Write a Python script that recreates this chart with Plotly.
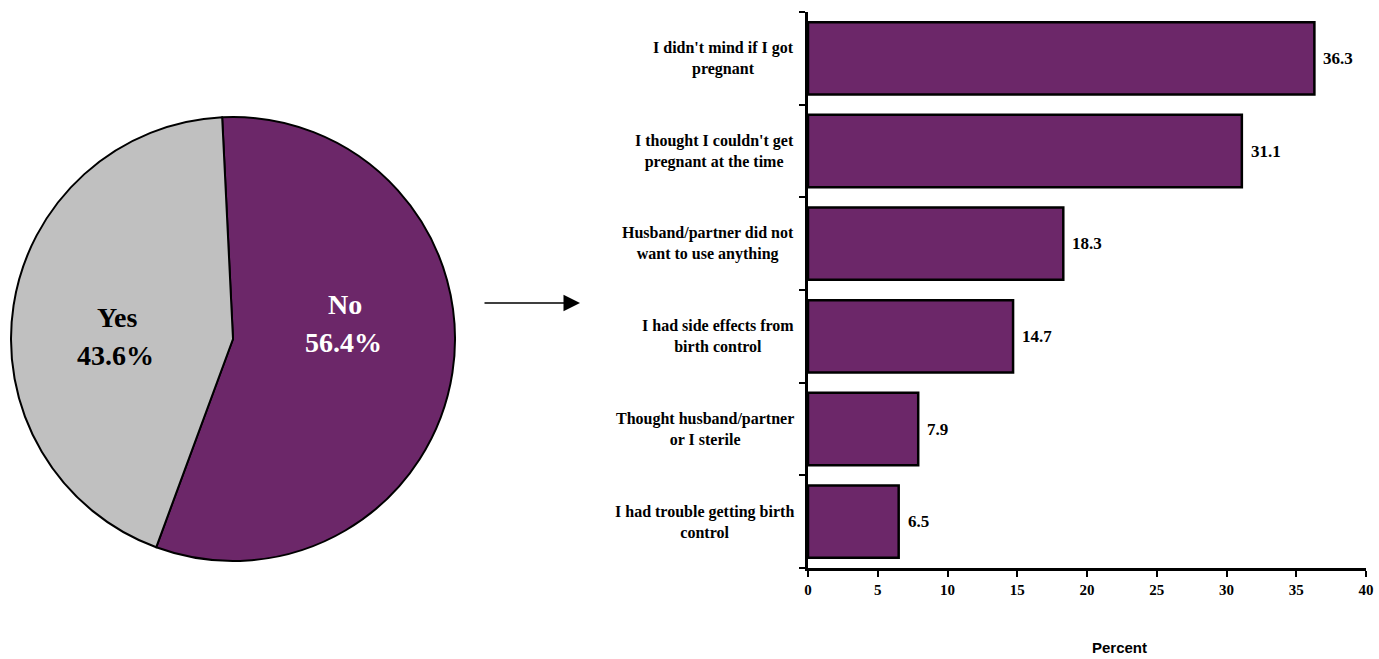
import plotly.graph_objects as go

pie_labels = ["No", "Yes"]
pie_values = [56.4, 43.6]
pie_colors = ["#6C2769", "#C0C0C0"]

reasons = [
    "I didn't mind if I got<br>pregnant",
    "I thought I couldn't get<br>pregnant at the time",
    "Husband/partner did not<br>want to use anything",
    "I had side effects from<br>birth control",
    "Thought husband/partner<br>or I sterile",
    "I had trouble getting birth<br>control",
]
percents = [36.3, 31.1, 18.3, 14.7, 7.9, 6.5]
x_ticks = [0, 5, 10, 15, 20, 25, 30, 35, 40]

W, H = 1379, 659
SERIF = "Liberation Serif, Times New Roman, serif"
SANS = "Liberation Sans, Arial, sans-serif"

def px(x):
    return x / W

def py(y):
    return 1 - y / H

fig = go.Figure()

fig.add_trace(go.Pie(
    labels=pie_labels, values=pie_values, sort=False, direction="clockwise",
    rotation=-2.8, marker=dict(colors=pie_colors, line=dict(color="black", width=2)),
    textinfo="none", hoverinfo="label+percent", showlegend=False,
    domain=dict(x=[px(11), px(455)], y=[py(561), py(117)]),
))

fig.add_trace(go.Bar(
    x=percents, y=list(range(len(reasons))), orientation="h",
    marker=dict(color="#6C2769", line=dict(color="black", width=2.5)),
    width=0.78, showlegend=False, xaxis="x", yaxis="y",
))

annotations = []
pie_pos = {"No": ((345, 305), (343, 342), "white"), "Yes": ((117, 317), (115, 355), "black")}
for lab, val in zip(pie_labels, pie_values):
    (x1, y1), (x2, y2), col = pie_pos[lab]
    annotations.append(dict(x=px(x1), y=py(y1), xref="paper", yref="paper", text=f"<b>{lab}</b>",
                            showarrow=False, font=dict(family=SERIF, size=28, color=col),
                            xanchor="center", yanchor="middle"))
    annotations.append(dict(x=px(x2), y=py(y2), xref="paper", yref="paper", text=f"<b>{val:.1f}%</b>",
                            showarrow=False, font=dict(family=SERIF, size=28, color=col),
                            xanchor="center", yanchor="middle"))

for i, r in enumerate(reasons):
    annotations.append(dict(x=px(796), y=i, xref="paper", yref="y", text=f"<b>{r}</b>",
                            showarrow=False, align="center", xanchor="right", yanchor="middle",
                            font=dict(family=SERIF, size=16, color="black")))
for i, v in enumerate(percents):
    annotations.append(dict(x=v, y=i, xref="x", yref="y", text=f"<b>{v:.1f}</b>",
                            showarrow=False, xanchor="left", yanchor="middle", xshift=7,
                            font=dict(family=SERIF, size=17, color="black")))
annotations.append(dict(x=px(1119), y=py(658), xref="paper", yref="paper", text="<b>Percent</b>",
                        showarrow=False, xanchor="center", yanchor="bottom",
                        font=dict(family=SANS, size=15, color="black")))
annotations.append(dict(x=px(580), y=py(303), xref="paper", yref="paper", text="",
                        showarrow=True, ax=-97, ay=0, axref="pixel", ayref="pixel",
                        arrowhead=2, arrowsize=2.2, arrowwidth=1.5, arrowcolor="black"))

fig.update_layout(
    width=W, height=H, margin=dict(l=0, r=0, t=0, b=0),
    paper_bgcolor="white", plot_bgcolor="white", template="none",
    xaxis=dict(domain=[px(808), px(1366)], range=[0, 40], tickvals=x_ticks,
               ticktext=[f"<b>{t}</b>" for t in x_ticks], showgrid=False, zeroline=False,
               showline=True, linecolor="black", linewidth=2.5, ticks="outside", ticklen=6,
               tickwidth=2, tickcolor="black", automargin=False,
               tickfont=dict(family=SERIF, size=15, color="black"), anchor="y"),
    yaxis=dict(domain=[py(568), py(12)], range=[5.5, -0.5], tickmode="array",
               tickvals=[i - 0.5 for i in range(len(reasons) + 1)], ticktext=[""] * (len(reasons) + 1),
               showgrid=False, zeroline=False, showline=True, linecolor="black", linewidth=2.5,
               ticks="outside", ticklen=6, tickwidth=2, tickcolor="black", automargin=False,
               anchor="x"),
    annotations=annotations,
)

fig.write_html("out.html", config={"displayModeBar": False},
               post_script="document.body.style.margin='0px';document.body.style.overflow='hidden';")
